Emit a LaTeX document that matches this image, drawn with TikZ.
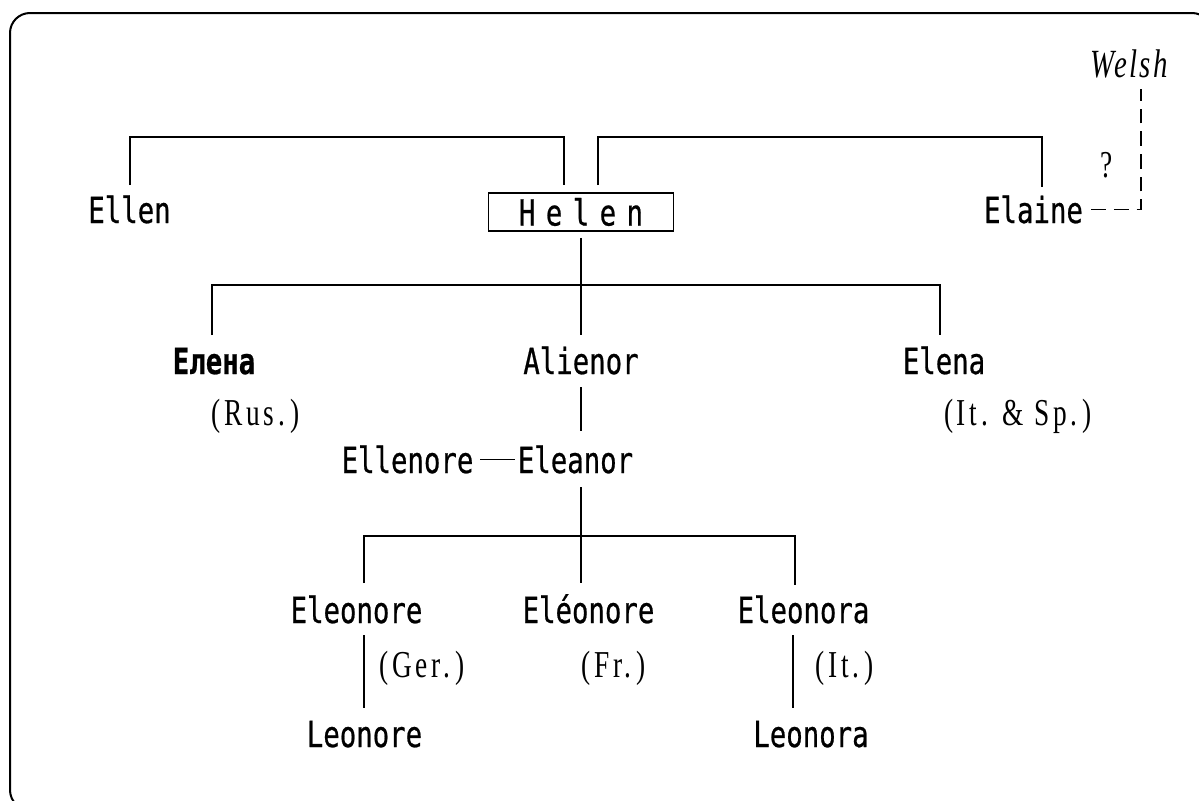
\documentclass[tikz,border=0pt]{standalone}
\usepackage{fontspec}
\usetikzlibrary{calc}
% narrow, evenly pitched faces for the names and serif glosses
\newfontfamily\namefont{DejaVu Sans Mono}[FakeStretch=0.76,FakeBold=0.6]
\newfontfamily\boxfont{DejaVu Sans Mono}[FakeStretch=0.76,FakeBold=0.6,LetterSpace=29]
\newfontfamily\glossfont{Liberation Serif}[FakeStretch=0.72,LetterSpace=10]
\newfontfamily\welshfont{Liberation Serif}[FakeStretch=0.72,LetterSpace=6]
\tikzset{
  person/.style={font=\namefont\fontsize{27}{30}\selectfont, inner sep=0pt, anchor=base},
  gloss/.style={font=\glossfont\fontsize{28.5}{30}\selectfont, inner sep=0pt, anchor=base},
  headbox/.style={draw, line width=1.2pt, inner sep=0pt, minimum width=138.75pt,
                  minimum height=28.5pt, font=\boxfont\fontsize{27}{30}\selectfont},
  link/.style={line width=1.3pt},
  guess/.style={line width=1.3pt, dash pattern=on 11pt off 6pt},
  frame/.style={line width=1.5pt, rounded corners=15pt}
}
\begin{document}
\begin{tikzpicture}[x=0.75pt,y=-0.75pt]
\useasboundingbox (0,0) rectangle (1199,800);
\draw[frame] (10,13) rectangle (1212,810);

% names
\node[person] (ellen) at (129.5,223) {Ellen};
\node[headbox] (helen) at (581,212) {Helen};
\node[person] (elaine) at (1033.5,223) {Elaine};
\node[font=\welshfont\itshape\fontsize{30}{32}\selectfont, inner sep=0pt, anchor=base] (welsh) at (1129,77) {Welsh};
\node[gloss] (query) at (1107,177) {?};

\node[person] (elenaRu) at (214,374) {\bfseries Елена};
\node[gloss] (rus) at (255.5,425) {(Rus.\kern4pt)};
\node[person] (alienor) at (581,374) {Alienor};
\node[person] (elena) at (944,374) {Elena};
\node[gloss] (itsp) at (1018,425) {(It. \& Sp.\kern4pt)};

\node[person] (ellenore) at (407.5,473) {Ellenore};
\node[person] (eleanor) at (575.5,473) {Eleanor};

\node[person] (eleonoreG) at (356.5,623) {Eleonore};
\node[person] (eleonoreF) at (588.5,623) {Eléonore};
\node[person] (eleonora) at (803.5,623) {Eleonora};
\node[gloss] (ger) at (422,677) {(Ger.\kern4pt)};
\node[gloss] (fr) at (613.5,677) {(Fr.\kern4pt)};
\node[gloss] (it) at (844.5,677) {(It.\kern4pt)};
\node[person] (leonore) at (364.5,747) {Leonore};
\node[person] (leonora) at (811,747) {Leonora};

% levels of the horizontal bars
\coordinate (lv1) at (0,137);
\coordinate (lv2) at (0,285);
\coordinate (lv3) at (0,536);

% Ellen -- Helen -- Elaine
\coordinate (ellenUp) at ($(ellen.base)+(0.5,-38)$);
\coordinate (helenUL) at ($(helen.north)+(-17,-7)$);
\coordinate (helenUR) at ($(helen.north)+(17,-7)$);
\coordinate (elaineUp) at ($(elaine.base)+(8.5,-36)$);
\draw[link] (ellenUp) -- (ellenUp |- lv1) -- (helenUL |- lv1) -- (helenUL);
\draw[link] (helenUR) -- (helenUR |- lv1) -- (elaineUp |- lv1) -- (elaineUp);

% Helen down to the second row
\coordinate (helenDown) at ($(helen.south)+(0,6)$);
\coordinate (alienorUp) at ($(alienor.base)+(0,-39)$);
\coordinate (ruUp) at ($(elenaRu.base)+(-2,-39)$);
\coordinate (elUp) at ($(elena.base)+(-4,-39)$);
\draw[link] (helenDown) -- (alienorUp);
\draw[link] (ruUp) -- (ruUp |- lv2) -- (elUp |- lv2) -- (elUp);

% Alienor -- Eleanor, Ellenore
\coordinate (alienorDown) at ($(alienor.base)+(0,13)$);
\coordinate (eleanorUp) at ($(eleanor.base -| alienor.base)+(0,-42)$);
\draw[link] (alienorDown) -- (eleanorUp);
\draw[link, shorten <=5pt, shorten >=2pt] (ellenore.east) -- (eleanor.west);

% Eleanor down to the third row
\coordinate (eleanorDown) at ($(eleanor.base -| alienor.base)+(0,14)$);
\coordinate (gUp) at ($(eleonoreG.base)+(7.5,-40)$);
\coordinate (fUp) at ($(eleonoreF.base)+(-7.5,-40)$);
\coordinate (aUp) at ($(eleonora.base)+(-8.5,-38)$);
\draw[link] (eleanorDown) -- (fUp);
\draw[link] (gUp) -- (gUp |- lv3) -- (aUp |- lv3) -- (aUp);

% third row to the last
\draw[link] ($(eleonoreG.base)+(7.5,12)$) -- ($(leonore.base)+(-0.5,-39)$);
\draw[link] ($(eleonora.base)+(-10.5,12)$) -- ($(leonora.base)+(-18,-39)$);

% doubtful Welsh link
\draw[guess] ($(elaine.east)+(8,0)$) -| ($(welsh.south)+(12,11)$);
\end{tikzpicture}
\end{document}
